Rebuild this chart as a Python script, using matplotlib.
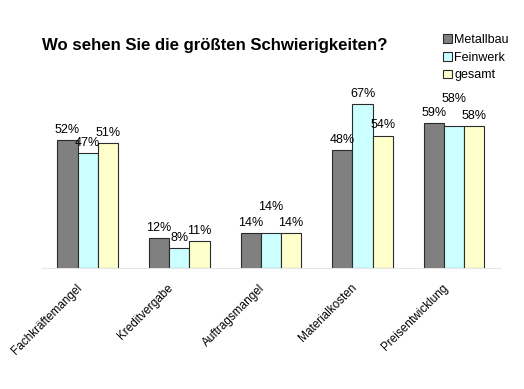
import numpy as np
import matplotlib.pyplot as plt
from matplotlib.transforms import ScaledTranslation

plt.rcParams['font.family'] = ['Liberation Sans', 'DejaVu Sans']

kategorien = ["Fachkräftemangel", "Kreditvergabe", "Auftragsmangel", "Materialkosten", "Preisentwicklung"]
metallbau = [52, 12, 14, 48, 59]
feinwerk = [47, 8, 14, 67, 58]
gesamt = [51, 11, 14, 54, 58]

serien = [("Metallbau", metallbau, "#808080"),
          ("Feinwerk", feinwerk, "#CCFFFF"),
          ("gesamt", gesamt, "#FFFFCC")]

fig = plt.figure(figsize=(5.24, 3.89), dpi=100)
ax = fig.add_axes([0.080, 0.312, 0.874, 0.44])

x = np.arange(len(kategorien))
breite = 0.22
# label offsets in points (raised where Excel avoided overlaps)
extra = {(1, 2): 12, (1, 4): 12}

handles = []
for i, (name, werte, farbe) in enumerate(serien):
    pos = x + (i - 1) * breite
    b = ax.bar(pos, werte, width=breite, color=farbe, edgecolor="#2b2b2b",
               linewidth=0.8, label=name)
    handles.append(b)
    for j, (px, v) in enumerate(zip(pos, werte)):
        ax.annotate(f"{v}%", (px, v), xytext=(0, 3 + extra.get((i, j), 0)),
                    textcoords="offset points", ha="center", va="bottom",
                    fontsize=9, clip_on=False)

ax.set_xlim(-0.5, 4.5)
ax.set_ylim(0, 70)
ax.set_yticks([])
ax.set_xticks(x)
ax.set_xticklabels(kategorien, rotation=45, ha="right", rotation_mode="anchor", fontsize=8.5)
ax.tick_params(axis="x", length=0, pad=6)
verschiebung = ScaledTranslation(-12 / 100, -6 / 100, fig.dpi_scale_trans)
for lbl in ax.get_xticklabels():
    lbl.set_transform(lbl.get_transform() + verschiebung)
for s in ["top", "left", "right"]:
    ax.spines[s].set_visible(False)
ax.spines["bottom"].set_color("#e6e6e6")

fig.text(0.41, 0.884, "Wo sehen Sie die größten Schwierigkeiten?", ha="center",
         va="center", fontsize=12.1, fontweight="bold")

fig.legend(handles=handles, loc="upper left", bbox_to_anchor=(0.836, 0.925),
           frameon=False, fontsize=9, handlelength=0.7, handleheight=0.7,
           handletextpad=0.2, labelspacing=0.45, borderaxespad=0)

fig.savefig("out.png", dpi=100)
